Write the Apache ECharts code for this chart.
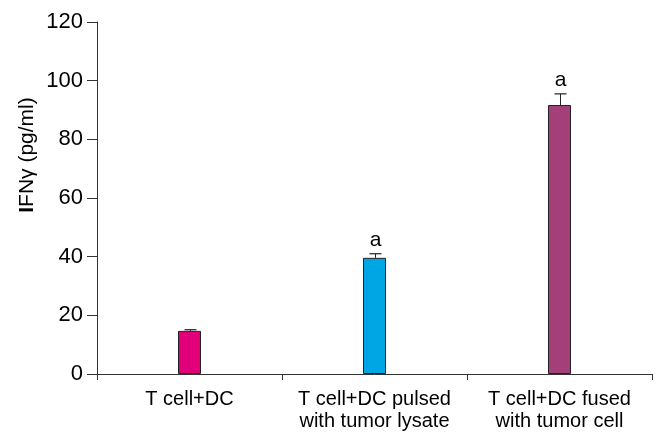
<!DOCTYPE html>
<html>
<head>
<meta charset="utf-8">
<script src="https://cdn.jsdelivr.net/npm/echarts@6/dist/echarts.min.js"></script>
<style>html,body{margin:0;padding:0;background:#fff}#c{width:657px;height:432px}</style>
</head>
<body>
<div id="c"></div>
<script>
const categories = ['T cell+DC', 'T cell+DC pulsed\nwith tumor lysate', 'T cell+DC fused\nwith tumor cell'];
const values = [14.7, 39.6, 91.7];
const errors = [0.4, 1.4, 3.8];
const sigLabels = ['', 'a', 'a'];
const barColors = ['#e2007a', '#00a6e4', '#a53f78'];
const yTicks = [0, 20, 40, 60, 80, 100, 120];

const chart = echarts.init(document.getElementById('c'), null, {renderer: 'canvas'});
const font = 'Liberation Sans, Arial, Helvetica, sans-serif';
chart.setOption({
  animation: false,
  grid: {left: 97, right: 5, top: 22, bottom: 58, containLabel: false},
  xAxis: {
    type: 'category',
    data: categories,
    axisLine: {lineStyle: {color: '#333', width: 1}},
    axisTick: {show: true, length: 6, lineStyle: {color: '#333'}},
    axisLabel: {color: '#000', fontSize: 20, fontFamily: font, margin: 14, lineHeight: 22, interval: 0}
  },
  yAxis: {
    type: 'value',
    min: yTicks[0],
    max: yTicks[yTicks.length - 1],
    interval: 20,
    splitLine: {show: false},
    axisLine: {show: true, lineStyle: {color: '#333', width: 1}},
    axisTick: {show: true, length: 10, lineStyle: {color: '#333'}},
    axisLabel: {color: '#000', fontSize: 22, fontFamily: font, margin: 14}
  },
  graphic: [{
    type: 'text',
    x: 27, y: 155,
    rotation: Math.PI / 2,
    style: {
      text: '{b|I}FNγ (pg/ml)',
      rich: {b: {fontWeight: 'bold', fontSize: 21, fontFamily: font, fill: '#000'}},
      fontSize: 21, fontFamily: font, fill: '#000',
      align: 'center', verticalAlign: 'middle'
    }
  }],
  series: [{
    type: 'bar',
    barWidth: 23,
    data: values.map((v, i) => ({value: v, itemStyle: {color: barColors[i]}})),
    itemStyle: {borderColor: '#222', borderWidth: 1}
  }, {
    type: 'custom',
    data: values.map((v, i) => [i, v, errors[i]]),
    renderItem: function (params, api) {
      const i = api.value(0), v = api.value(1), e = api.value(2);
      const base = api.coord([i, v]);
      const top = api.coord([i, v + e]);
      const x = Math.round(base[0]) + 0.5;
      const children = [
        {type: 'line', shape: {x1: x, y1: base[1], x2: x, y2: top[1]}, style: {stroke: '#222', lineWidth: 1}},
        {type: 'line', shape: {x1: x - 6, y1: top[1], x2: x + 6, y2: top[1]}, style: {stroke: '#222', lineWidth: 1.2}}
      ];
      const lab = sigLabels[params.dataIndex];
      if (lab) {
        children.push({type: 'text', x: x, y: top[1] - 3, style: {text: lab, fontSize: 21, fontFamily: font, fill: '#000', align: 'center', verticalAlign: 'bottom'}});
      }
      return {type: 'group', children: children};
    },
    z: 5
  }]
});
</script>
</body>
</html>
